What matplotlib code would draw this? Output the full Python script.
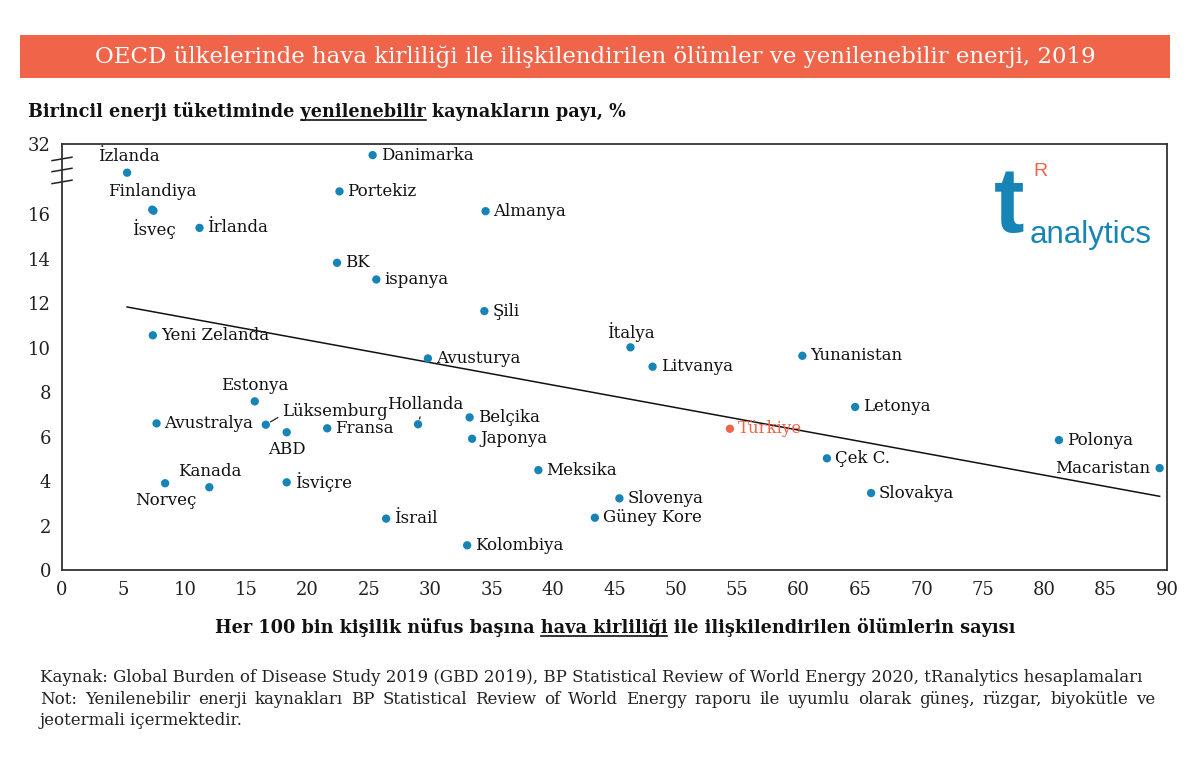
import numpy as np
import matplotlib.pyplot as plt
from matplotlib.lines import Line2D
from matplotlib.patches import Rectangle

# values; the y axis is broken above ~17 (top tick says 32),
# so those three countries keep their drawn position
countries = ["İzlanda", "Finlandiya", "İsveç", "İrlanda", "Danimarka", "Portekiz", "BK", "ispanya",
             "Almanya", "Şili", "Yeni Zelanda", "Estonya", "Avustralya", "Lüksemburg", "ABD", "Fransa",
             "Kanada", "Norveç", "İsviçre", "İsrail", "Hollanda", "Avusturya", "Belçika", "Japonya",
             "Meksika", "Slovenya", "Güney Kore", "Kolombiya", "İtalya", "Litvanya", "Türkiye",
             "Yunanistan", "Letonya", "Çek C.", "Slovakya", "Polonya", "Macaristan"]
deaths = [5.3, 7.35, 7.45, 11.2, 25.3, 22.6, 22.4, 25.6,
          34.5, 34.4, 7.4, 15.7, 7.7, 16.6, 18.3, 21.6,
          12.0, 8.4, 18.3, 26.4, 29.0, 29.8, 33.2, 33.4,
          38.8, 45.4, 43.4, 33.0, 46.3, 48.1, 54.4,
          60.3, 64.6, 62.3, 65.9, 81.2, 89.4]
renew = [17.86, 16.2, 16.15, 15.38, 18.65, 17.02, 13.81, 13.06,
         16.13, 11.64, 10.55, 7.58, 6.59, 6.53, 6.19, 6.37,
         3.72, 3.90, 3.94, 2.31, 6.55, 9.51, 6.86, 5.90,
         4.49, 3.22, 2.35, 1.11, 10.01, 9.14, 6.35,
         9.63, 7.33, 5.02, 3.46, 5.84, 4.58]

trend_slope = -0.1012
trend_intercept = 12.36

yticks = [0, 2, 4, 6, 8, 10, 12, 14, 16]
ytop = 19.15
ytop_label = "32"

BLUE = "#1685b6"
ORANGE = "#f0644a"
W, H = 1200, 783

# label offsets in pixels (dx, dy, ha); default is to the right of the dot
label_pos = {
    "İzlanda": (2, 16, "center"),
    "Finlandiya": (0, 18, "center"),
    "İsveç": (0, -18, "center"),
    "Estonya": (0, 16, "center"),
    "ABD": (0, -17, "center"),
    "Kanada": (0, 16, "center"),
    "Norveç": (1, -17, "center"),
    "İtalya": (0, 15, "center"),
    "Macaristan": (-9, 0, "right"),
    "Lüksemburg": (16, 13, "left"),
    "Hollanda": (7, 20, "center"),
}
leaders = {"Lüksemburg": (0, 0.3), "Hollanda": (0.45, 0)}

plt.rcParams['font.family'] = 'DejaVu Serif'

fig = plt.figure(figsize=(12, 7.83), dpi=100)
ax = fig.add_axes([62 / W, 1 - 570 / H, 1105 / W, 426 / H])

colors = [ORANGE if c == "Türkiye" else BLUE for c in countries]
ax.scatter(deaths, renew, s=36, color=colors, zorder=3, linewidths=0)

xs = np.array([min(deaths), max(deaths)])
ax.plot(xs, trend_intercept + trend_slope * xs, color="#111111", lw=1.1, zorder=2)

for c, x, y in zip(countries, deaths, renew):
    dx, dy, ha = label_pos.get(c, (8, 0, "left"))
    kw = {}
    if c in leaders:
        kw["arrowprops"] = dict(arrowstyle="-", lw=0.9, color="#222222", shrinkA=1, shrinkB=4,
                                relpos=leaders[c])
    ax.annotate(c, (x, y), xytext=(dx, dy), textcoords="offset pixels", ha=ha, va="center",
                fontsize=12, color=ORANGE if c == "Türkiye" else "#111111", zorder=4, **kw)

ax.set_xlim(0, 90)
ax.set_ylim(0, ytop)
ax.set_xticks(range(0, 91, 5))
ax.set_yticks(yticks + [ytop])
ax.set_yticklabels([str(v) for v in yticks] + [ytop_label])
ax.tick_params(length=0, labelsize=13, colors="#222222", pad=8)
for s in ax.spines.values():
    s.set_color("#333333")
    s.set_linewidth(1.3)

# axis break marks
for yb in [0.965, 0.939, 0.911]:
    ax.plot([-0.009, 0.009], [yb - 0.004, yb + 0.004], transform=ax.transAxes,
            color="#222222", lw=1.1, clip_on=False)

# logo
fig.text(994 / W, 1 - 232 / H, "t", fontsize=66, fontweight="bold", color=BLUE,
         family="Liberation Sans", va="baseline")
fig.text(1033 / W, 1 - 176 / H, "R", fontsize=14, color=ORANGE, family="Liberation Sans",
         va="baseline")
fig.text(1030 / W, 1 - 243 / H, "analytics", fontsize=22.5, color=BLUE, family="Liberation Sans",
         va="baseline")

# title banner
fig.add_artist(Rectangle((20 / W, 1 - 78 / H), 1150 / W, 43 / H, transform=fig.transFigure,
                         color=ORANGE, lw=0))
fig.text(595 / W, 1 - 57 / H,
         "OECD ülkelerinde hava kirliliği ile ilişkilendirilen ölümler ve yenilenebilir enerji, 2019",
         ha="center", va="center", fontsize=16.5, color="white")

r = fig.canvas.get_renderer()


def underline(t, prefix, word):
    prop = t.get_fontproperties()
    w = lambda s: r.get_text_width_height_descent(s, prop, ismath=False)[0]
    bb = t.get_window_extent(r)
    x0 = bb.x0 + w(prefix + word) - w(word)
    x1 = bb.x0 + w(prefix + word)
    yb = t.get_position()[1] * H - 3
    fig.add_artist(Line2D([x0 / W, x1 / W], [yb / H, yb / H], transform=fig.transFigure,
                          color="#111111", lw=1.2))


ylab = fig.text(28 / W, 1 - 117 / H,
                "Birincil enerji tüketiminde yenilenebilir kaynakların payı, %",
                fontsize=12.7, fontweight="bold", va="baseline", color="#111111")
underline(ylab, "Birincil enerji tüketiminde ", "yenilenebilir")

xlab = fig.text(615 / W, 1 - 633 / H,
                "Her 100 bin kişilik nüfus başına hava kirliliği ile ilişkilendirilen ölümlerin sayısı",
                fontsize=12.7, fontweight="bold", va="baseline", ha="center", color="#111111")
underline(xlab, "Her 100 bin kişilik nüfus başına ", "hava kirliliği")


def justify(line, x0, x1, y):
    words = line.split()
    texts = [fig.text(0, y, wd, fontsize=12, va="baseline", color="#222222") for wd in words]
    widths = [t.get_window_extent(r).width for t in texts]
    gap = (x1 - x0 - sum(widths)) / (len(words) - 1)
    x = x0
    for t, wd in zip(texts, widths):
        t.set_x(x / W)
        x += wd + gap


fig.text(40 / W, 1 - 682 / H,
         "Kaynak: Global Burden of Disease Study 2019 (GBD 2019), BP Statistical Review of World Energy 2020, tRanalytics hesaplamaları",
         fontsize=12, va="baseline", color="#222222")
justify("Not: Yenilenebilir enerji kaynakları BP Statistical Review of World Energy raporu ile uyumlu olarak güneş, rüzgar, biyokütle ve",
        40, 1155, 1 - 704 / H)
fig.text(40 / W, 1 - 725 / H, "jeotermali içermektedir.", fontsize=12, va="baseline", color="#222222")

fig.savefig("out.png", dpi=100)
